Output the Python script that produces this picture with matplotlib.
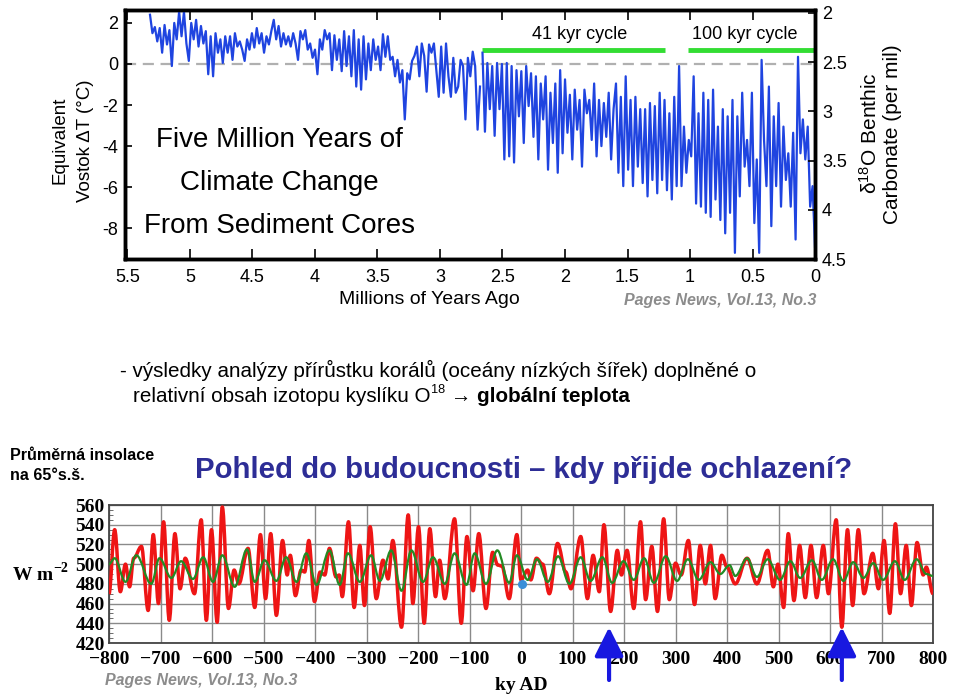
import numpy as np
import matplotlib
matplotlib.use("Agg")
import matplotlib.pyplot as plt
from matplotlib.path import Path
from matplotlib.patches import PathPatch
from matplotlib import font_manager as fm

# ---------------- data ----------------
# Top chart: equivalent Vostok dT (deg C), sampled along age (Myr)
early_T = [2.4, 1.5, 1.8, 1.1, 1.75, 0.55, 1.9, 0.95, 1.65, -0.1,
           2.0, 1.2, 2.55, 1.35, 2.55, 1.0, 0.15, 2.0, 1.2, 2.15,
           0.85, 1.85, 1.0, 1.6, -0.5, 1.35, -0.6, 1.5, 0.55, 1.2,
           0.05, 1.35, 0.55, 1.35, 0.2, 1.5, 0.85, 1.1, 0.7, 0.15,
           1.2, 0.7, 1.5, 0.8, 1.75, 1.0, 1.5, 0.55, 1.35, 0.95,
           1.6, 2.15, 1.2, 1.85, 0.85, 1.5, 0.95, 1.35, 0.85, 1.5,
           1.0, 0.2, 1.6, 1.2, 1.65, 0.7, 1.0, 0.3, 0.7, -0.5,
           1.2, 0.7, 1.65, 1.2, 1.5, -0.3, 1.4, 0.2, 1.2, -0.35,
           1.6, -0.1, 1.35, -0.6, 1.65, -1.1, 1.2, -1.25, 1.35, -0.75,
           1.0, -0.3, 1.2, 0.2, 0.85, -0.3, 1.45, 0.35, 1.35, 0.2,
           0.35, -0.6, 0.2, -0.9, -0.3, -2.7, -0.45, -0.75, 0.15, 0.4,
           0.85, -0.6, 1.0, 0.4, -1.35, 0.95, 0.55, 1.0, -0.3, -1.6,
           0.85, -1.4, 1.0, -0.6, -1.6, 0.3, -1.4, -1.1, 0.2, -0.1,
           -2.7, 0.3, -0.6, 0.6, -0.1, -3.2, -1.1]
late_T = [0.55, -3.3, 0.05, -2.2, -0.1, -3.5, 0.05, -2.2, 0.0, -4.65,
          0.05, -4.5, -0.1, -4.8, -0.3, -2.55, -0.35, -3.85, -0.1, -2.05,
          -0.45, -3.55, -0.6, -4.65, -0.95, -2.7, -0.6, -5.15, -1.4, -3.85,
          -0.95, -5.3, -0.3, -4.35, -0.75, -3.35, -1.5, -4.65, -1.25, -3.2,
          -1.75, -5.0, -1.25, -2.4, -1.75, -3.7, -0.95, -4.5, -1.75, -4.0,
          -1.9, -3.55, -1.4, -4.65, -2.2, -0.95, -5.3, -1.6, -5.95, -0.6,
          -5.15, -1.75, -5.95, -1.6, -5.0, -2.2, -5.8, -2.2, -6.45, -1.9,
          -5.65, -2.05, -6.3, -1.4, -5.65, -1.75, -6.15, -2.4, -6.6, -1.6,
          -5.95, -0.1, -5.95, -3.05, -5.3, -3.7, -4.5, -0.6, -6.8, -2.4,
          -6.95, -1.4, -7.25, -1.75, -7.45, -1.25, -6.6, -3.05, -7.6, -2.2,
          -8.25, -2.55, -7.25, -1.75, -9.2, -2.55, -6.45, -1.4, -5.0, -3.7,
          -5.95, -1.4, -7.75, -4.65, -9.2, 0.2, -3.7, -5.95, -1.1, -7.9,
          -2.55, -5.95, -1.9, -6.95, -3.05, -5.65, -4.35, -6.95, -3.35, -8.55,
          0.35, -4.35, -2.7, -4.65, -3.05, -6.95, -5.95, -8.9]
early_age = np.linspace(5.32, 2.68, len(early_T))
late_age = np.linspace(2.66, 0.0, len(late_T))

top_xticks = [5.5, 5, 4.5, 4, 3.5, 3, 2.5, 2, 1.5, 1, 0.5, 0]
top_xlabels = ["5.5", "5", "4.5", "4", "3.5", "3", "2.5", "2", "1.5", "1", "0.5", "0"]
left_yticks = [2, 0, -2, -4, -6, -8]
left_ylabels = ["2", "0", "-2", "-4", "-6", "-8"]
right_yticks = [2, 2.5, 3, 3.5, 4, 4.5]
right_ylabels = ["2", "2.5", "3", "3.5", "4", "4.5"]

cycle_spans = [(2.66, 1.2), (1.02, 0.0)]
cycle_level = 0.7
cycle_labels = ["41 kyr cycle", "100 kyr cycle"]
cycle_label_x = [1.88, 0.56]
cycle_label_y = 1.43

# Bottom chart: insolation at 65N (W m^-2), extrema vs ky AD
red_ky = [-800, -789, -778, -768, -760, -752, -737, -724, -714, -704,
          -694, -683, -672, -662, -652, -634, -621, -611, -601, -590,
          -580, -568, -557, -548, -530, -517, -506, -496, -486, -475,
          -463, -454, -448, -438, -427, -420, -412, -401, -390, -381,
          -372, -359, -353, -347, -335, -324, -313, -304, -293, -281,
          -268, -258, -249, -232, -219, -210, -199, -188, -177, -166,
          -158, -148, -129, -116, -105, -93, -82, -68, -55, -45,
          -37, -23, -8, 0, 13, 19, 30, 42, 55, 71,
          87, 97, 116, 129, 140, 152, 161, 174, 187, 195,
          206, 219, 232, 242, 254, 265, 277, 288, 300, 311,
          325, 337, 348, 358, 368, 377, 390, 400, 416, 439,
          458, 479, 490, 499, 510, 519, 530, 541, 552, 563,
          574, 587, 597, 612, 623, 634, 644, 655, 666, 683,
          694, 705, 716, 727, 737, 748, 758, 769, 781, 787, 800]
red_W = [470, 535, 472, 500, 477, 506, 518, 453, 530, 460,
         543, 443, 531, 475, 506, 470, 545, 443, 535, 441,
         558, 455, 494, 480, 516, 456, 530, 465, 531, 448,
         524, 489, 509, 468, 494, 492, 524, 462, 492, 489,
         516, 487, 489, 467, 543, 456, 519, 458, 538, 465,
         504, 485, 524, 436, 550, 460, 538, 440, 536, 467,
         504, 465, 546, 440, 528, 473, 531, 455, 512, 499,
         498, 465, 530, 484, 494, 484, 506, 500, 470, 521,
         492, 475, 528, 465, 509, 472, 540, 452, 514, 489,
         514, 455, 543, 464, 518, 452, 546, 464, 501, 489,
         524, 459, 519, 480, 519, 465, 509, 497, 480, 506,
         480, 514, 477, 500, 456, 531, 463, 519, 466, 519,
         466, 519, 470, 545, 436, 535, 458, 535, 470, 511,
         475, 524, 450, 541, 470, 519, 458, 522, 489, 497, 470]
green_ky = [-800, -789, -768, -747, -718, -702, -679, -660, -637, -617,
            -598, -580, -556, -532, -517, -498, -475, -456, -436, -417,
            -397, -372, -352, -336, -313, -291, -274, -252, -232, -213,
            -190, -171, -148, -129, -106, -90, -68, -46, -23, -8,
            13, 31, 52, 72, 94, 116, 135, 158, 177, 199,
            219, 239, 258, 281, 303, 324, 345, 368, 387, 405,
            416, 439, 458, 479, 503, 523, 542, 565, 584, 606,
            626, 645, 665, 684, 703, 726, 745, 768, 787, 800]
green_W = [500, 506, 482, 509, 480, 506, 486, 503, 485, 507,
           482, 509, 477, 515, 482, 504, 483, 507, 482, 511,
           479, 514, 479, 511, 482, 509, 483, 514, 473, 514,
           482, 507, 480, 511, 479, 511, 480, 514, 481, 509,
           484, 505, 482, 508, 480, 507, 483, 507, 481, 503,
           484, 506, 481, 508, 483, 505, 484, 502, 490, 499,
           488, 506, 487, 505, 484, 503, 486, 504, 484, 505,
           483, 502, 486, 501, 484, 503, 484, 505, 490, 488]
now_point = (2, 480)
arrow_ky = [171, 623]
arrow_tip_W = 436
bot_xticks = list(range(-800, 801, 100))
bot_xlabels = ["\u2212800", "\u2212700", "\u2212600", "\u2212500", "\u2212400", "\u2212300",
               "\u2212200", "\u2212100", "0", "100", "200", "300", "400", "500", "600",
               "700", "800"]
bot_yticks = list(range(420, 561, 20))
bot_ylabels = [str(v) for v in bot_yticks]

# ---------------- setup ----------------
names = {f.name for f in fm.fontManager.ttflist}
SANS = "Liberation Sans"
NARROW = "Liberation Sans Narrow" if "Liberation Sans Narrow" in names else SANS
SERIF = "Liberation Serif"
plt.rcParams["font.family"] = [SANS, "DejaVu Sans"]
plt.rcParams["mathtext.fontset"] = "custom"
plt.rcParams["mathtext.rm"] = SANS
plt.rcParams["mathtext.it"] = SANS + ":italic"
plt.rcParams["mathtext.bf"] = SANS + ":bold"
plt.rcParams["axes.unicode_minus"] = False

W, H = 960, 700
fig = plt.figure(figsize=(9.6, 7.0), dpi=100)
fig.patch.set_facecolor("white")
renderer = fig.canvas.get_renderer()


def fpos(xp, yp):
    return xp / W, 1 - yp / H


def fit_text(xp, yp, s, width_px, **kw):
    t = fig.text(*fpos(xp, yp), s, ha="left", va="center", **kw)
    w = t.get_window_extent(renderer).width
    t.set_fontsize(t.get_fontsize() * width_px / w)
    return t


# ---------------- top chart ----------------
ax1 = fig.add_axes([125 / W, 1 - 259 / H, 690 / W, 249 / H])
ax1.axhline(0, color="#b0b0b0", lw=1.6, ls=(0, (5, 3)), zorder=1)
ax1.plot(early_age, early_T, color="#1f44e0", lw=1.6, zorder=3)
ax1.plot(late_age, late_T, color="#1f44e0", lw=1.6, zorder=3)
for (a0, a1) in cycle_spans:
    ax1.plot([a0, a1], [cycle_level, cycle_level], color="#33dd33", lw=3.5,
             solid_capstyle="butt", zorder=2)
for lab, lx in zip(cycle_labels, cycle_label_x):
    ax1.text(lx, cycle_label_y, lab, ha="center", va="center", fontsize=13)
ax1.set_xlim(5.52, 0)
ax1.set_ylim(-9.5, 2.63)
ax1.set_xticks(top_xticks)
ax1.set_xticklabels(top_xlabels, fontsize=13)
ax1.set_yticks(left_yticks)
ax1.set_yticklabels(left_ylabels, fontsize=13)
ax1.tick_params(axis="x", direction="in", length=7, width=1.2, top=True, pad=7)
ax1.tick_params(axis="y", direction="in", length=5, width=1.2, pad=5)
for sp in ax1.spines.values():
    sp.set_linewidth(2.5)
fig.text(*fpos(279, 140), "Five Million Years of", ha="center", va="center", fontsize=20)
fig.text(*fpos(279, 183), "Climate Change", ha="center", va="center", fontsize=20)
fig.text(*fpos(279, 226), "From Sediment Cores", ha="center", va="center", fontsize=20)

ax2 = ax1.twinx()
ax2.set_ylim(4.5, 1.97)
ax2.set_yticks(right_yticks)
ax2.set_yticklabels(right_ylabels, fontsize=13)
ax2.tick_params(axis="y", direction="in", length=5, width=1.2, pad=5)
for sp in ax2.spines.values():
    sp.set_linewidth(2.5)

fig.text(*fpos(60, 140), "Equivalent", rotation=90, ha="center", va="center", fontsize=13.5)
fig.text(*fpos(85, 141), "Vostok \u0394T (\u00b0C)", rotation=90, ha="center", va="center", fontsize=13.5)
fig.text(*fpos(870, 133), "\u03b4$^{18}$O Benthic", rotation=90, ha="center", va="center", fontsize=15)
fig.text(*fpos(893, 134), "Carbonate (per mil)", rotation=90, ha="center", va="center", fontsize=15)
fig.text(*fpos(429, 300), "Millions of Years Ago", ha="center", va="center", fontsize=14)
fig.text(*fpos(816, 301), "Pages News, Vol.13, No.3", ha="right", va="center",
         fontsize=11.5, color="#8c8c8c", fontweight="bold", fontstyle="italic")

# ---------------- middle text ----------------
fam_n = [NARROW, "DejaVu Sans"]
t1 = fit_text(120, 370, "- v\u00fdsledky anal\u00fdzy p\u0159\u00edr\u016fstku kor\u00e1l\u016f "
              "(oce\u00e1ny n\u00edzk\u00fdch \u0161\u00ed\u0159ek) dopln\u011bn\u00e9 o",
              635, family=fam_n, fontsize=16)
fs = t1.get_fontsize()
x = 133
pieces = [("relativn\u00ed obsah izotopu kysl\u00edku O", "normal", 1.0, 0),
          ("18", "normal", 0.62, -6),
          (" \u2192 ", "normal", 1.0, 0),
          ("glob\u00e1ln\u00ed teplota", "bold", 1.0, 0)]
for s, wgt, scale, dy in pieces:
    t = fig.text(*fpos(x, 396 + dy), s, ha="left", va="center", family=fam_n,
                 fontsize=fs * scale, fontweight=wgt)
    x += t.get_window_extent(renderer).width

t3 = fit_text(10, 456, "Pr\u016fm\u011brn\u00e1 insolace", 145, family=fam_n,
              fontsize=11, fontweight="bold")
fig.text(*fpos(10, 476), "na 65\u00b0s.\u0161.", ha="left", va="center", family=fam_n,
         fontsize=t3.get_fontsize(), fontweight="bold")
fit_text(195, 470, "Pohled do budoucnosti \u2013 kdy p\u0159ijde ochlazen\u00ed?", 660,
         fontsize=18, fontweight="bold", color="#2d2d96")

# ---------------- bottom chart ----------------
ax3 = fig.add_axes([109 / W, 1 - 643 / H, 824 / W, 138 / H])


def smooth_path(xs, ys):
    verts = [(xs[0], ys[0])]
    codes = [Path.MOVETO]
    for i in range(len(xs) - 1):
        dx = xs[i + 1] - xs[i]
        verts += [(xs[i] + 0.36 * dx, ys[i]), (xs[i + 1] - 0.36 * dx, ys[i + 1]),
                  (xs[i + 1], ys[i + 1])]
        codes += [Path.CURVE4] * 3
    return Path(verts, codes)


ax3.add_patch(PathPatch(smooth_path(red_ky, red_W), facecolor="none",
                        edgecolor="#ee1515", lw=2.5, zorder=3, joinstyle="round"))
ax3.add_patch(PathPatch(smooth_path(green_ky, green_W), facecolor="none",
                        edgecolor="#238a23", lw=1.6, zorder=4))
ax3.plot([now_point[0]], [now_point[1]], "o", color="#3a8fd8", ms=5.5, zorder=5)
ax3.set_xlim(-800, 800)
ax3.set_ylim(420, 560)
ax3.set_xticks(bot_xticks)
ax3.set_xticklabels(bot_xlabels, family=SERIF, fontweight="bold", fontsize=14)
ax3.set_yticks(bot_yticks)
ax3.set_yticklabels(bot_ylabels, family=SERIF, fontweight="bold", fontsize=14)
ax3.set_yticks(np.arange(420, 561, 5), minor=True)
ax3.tick_params(axis="x", which="major", length=0, pad=6)
ax3.tick_params(axis="y", which="major", length=0, pad=3)
ax3.tick_params(axis="y", which="minor", direction="in", length=3, color="#555555")
ax3.grid(True, which="major", color="#8a8a8a", lw=1.0)
ax3.set_axisbelow(True)
for sp in ax3.spines.values():
    sp.set_linewidth(1.3)
    sp.set_color("#444444")

for kx in arrow_ky:
    ax3.annotate("", xy=(kx, arrow_tip_W), xycoords="data",
                 xytext=(kx, 1 - 680 / H), textcoords=("data", "figure fraction"),
                 arrowprops=dict(arrowstyle="-|>,head_length=1.1,head_width=0.55",
                                 color="#1818e0", lw=3, shrinkA=0, shrinkB=0,
                                 mutation_scale=16),
                 annotation_clip=False, zorder=6)

fig.text(*fpos(13, 575), "W m", ha="left", va="center", family=SERIF,
         fontweight="bold", fontsize=14)
fig.text(*fpos(53, 568), "\u22122", ha="left", va="center", family=SERIF,
         fontweight="bold", fontsize=10)
fig.text(*fpos(521, 686), "ky AD", ha="center", va="center", family=SERIF,
         fontweight="bold", fontsize=14)
fig.text(*fpos(105, 680), "Pages News, Vol.13, No.3", ha="left", va="center",
         fontsize=11.5, color="#8c8c8c", fontweight="bold", fontstyle="italic")

fig.savefig("out.png", dpi=100, facecolor="white")
